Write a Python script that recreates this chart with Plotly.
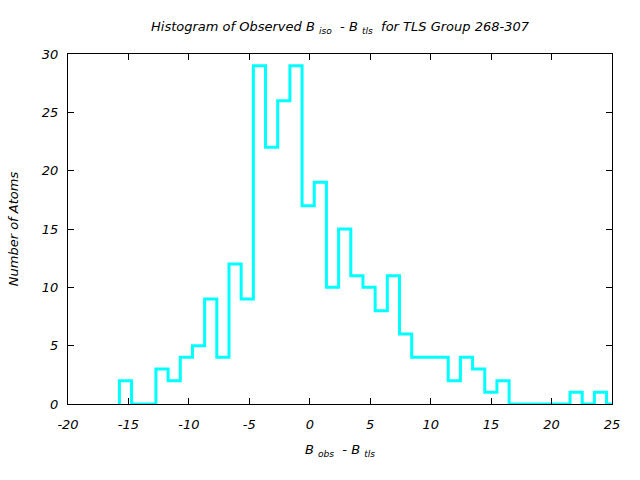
import plotly.graph_objects as go

# Histogram data
bin_start = -15.75
bin_width = 1.0075
counts = [2, 0, 0, 3, 2, 4, 5, 9, 4, 12, 9, 29, 22, 26, 29, 17,
          19, 10, 15, 11, 10, 8, 11, 6, 4, 4, 4, 2, 4, 3, 1, 2,
          0, 0, 0, 0, 0, 1, 0, 1, 0]

x_tickvals = [-20, -15, -10, -5, 0, 5, 10, 15, 20, 25]
x_ticktext = ["-20", "-15", "-10", "-5", "0", "5", "10", "15", "20", "25"]
y_tickvals = [0, 5, 10, 15, 20, 25, 30]
y_ticktext = ["0", "5", "10", "15", "20", "25", "30"]

edges = [bin_start + i * bin_width for i in range(len(counts) + 1)]
xs = [edges[0]] + edges[:len(counts)] + [edges[-1]]
ys = [0] + counts + [counts[-1]]

font_family = "DejaVu Sans"
fsize = 13

fig = go.Figure()
fig.add_trace(go.Scatter(
    x=xs, y=ys, mode="lines", line=dict(color="#00FFFF", width=3, shape="hv"),
    showlegend=False, hoverinfo="skip", cliponaxis=True,
))

axis_common = dict(
    showgrid=False, zeroline=False, showline=True, linecolor="black", linewidth=1,
    mirror="ticks", ticks="inside", ticklen=6, tickcolor="black", tickwidth=1,
    tickfont=dict(family=font_family, size=fsize, color="black", style="italic"),
)

fig.update_layout(
    width=640, height=480,
    margin=dict(l=68, r=28, t=54, b=76),
    paper_bgcolor="white", plot_bgcolor="white",
    title=dict(
        text="<i>Histogram of Observed B <sub>iso</sub>  - B <sub>tls</sub>  for TLS Group 268-307</i>",
        xref="paper", x=0.5, xanchor="center", y=0.945, yanchor="middle",
        font=dict(family=font_family, size=fsize, color="black"),
    ),
    xaxis=dict(
        range=[-20, 25], tickvals=x_tickvals, ticktext=x_ticktext,
        ticklabelstandoff=8,
        title=dict(text="<i>B <sub>obs</sub>  - B <sub>tls</sub></i>",
                   font=dict(family=font_family, size=fsize, color="black"), standoff=14),
        **axis_common,
    ),
    yaxis=dict(
        range=[0, 30], tickvals=y_tickvals, ticktext=y_ticktext,
        ticklabelstandoff=6,
        title=dict(text="<i>Number of Atoms</i>",
                   font=dict(family=font_family, size=fsize, color="black"), standoff=20),
        **axis_common,
    ),
)

fig.write_html("out.html")
